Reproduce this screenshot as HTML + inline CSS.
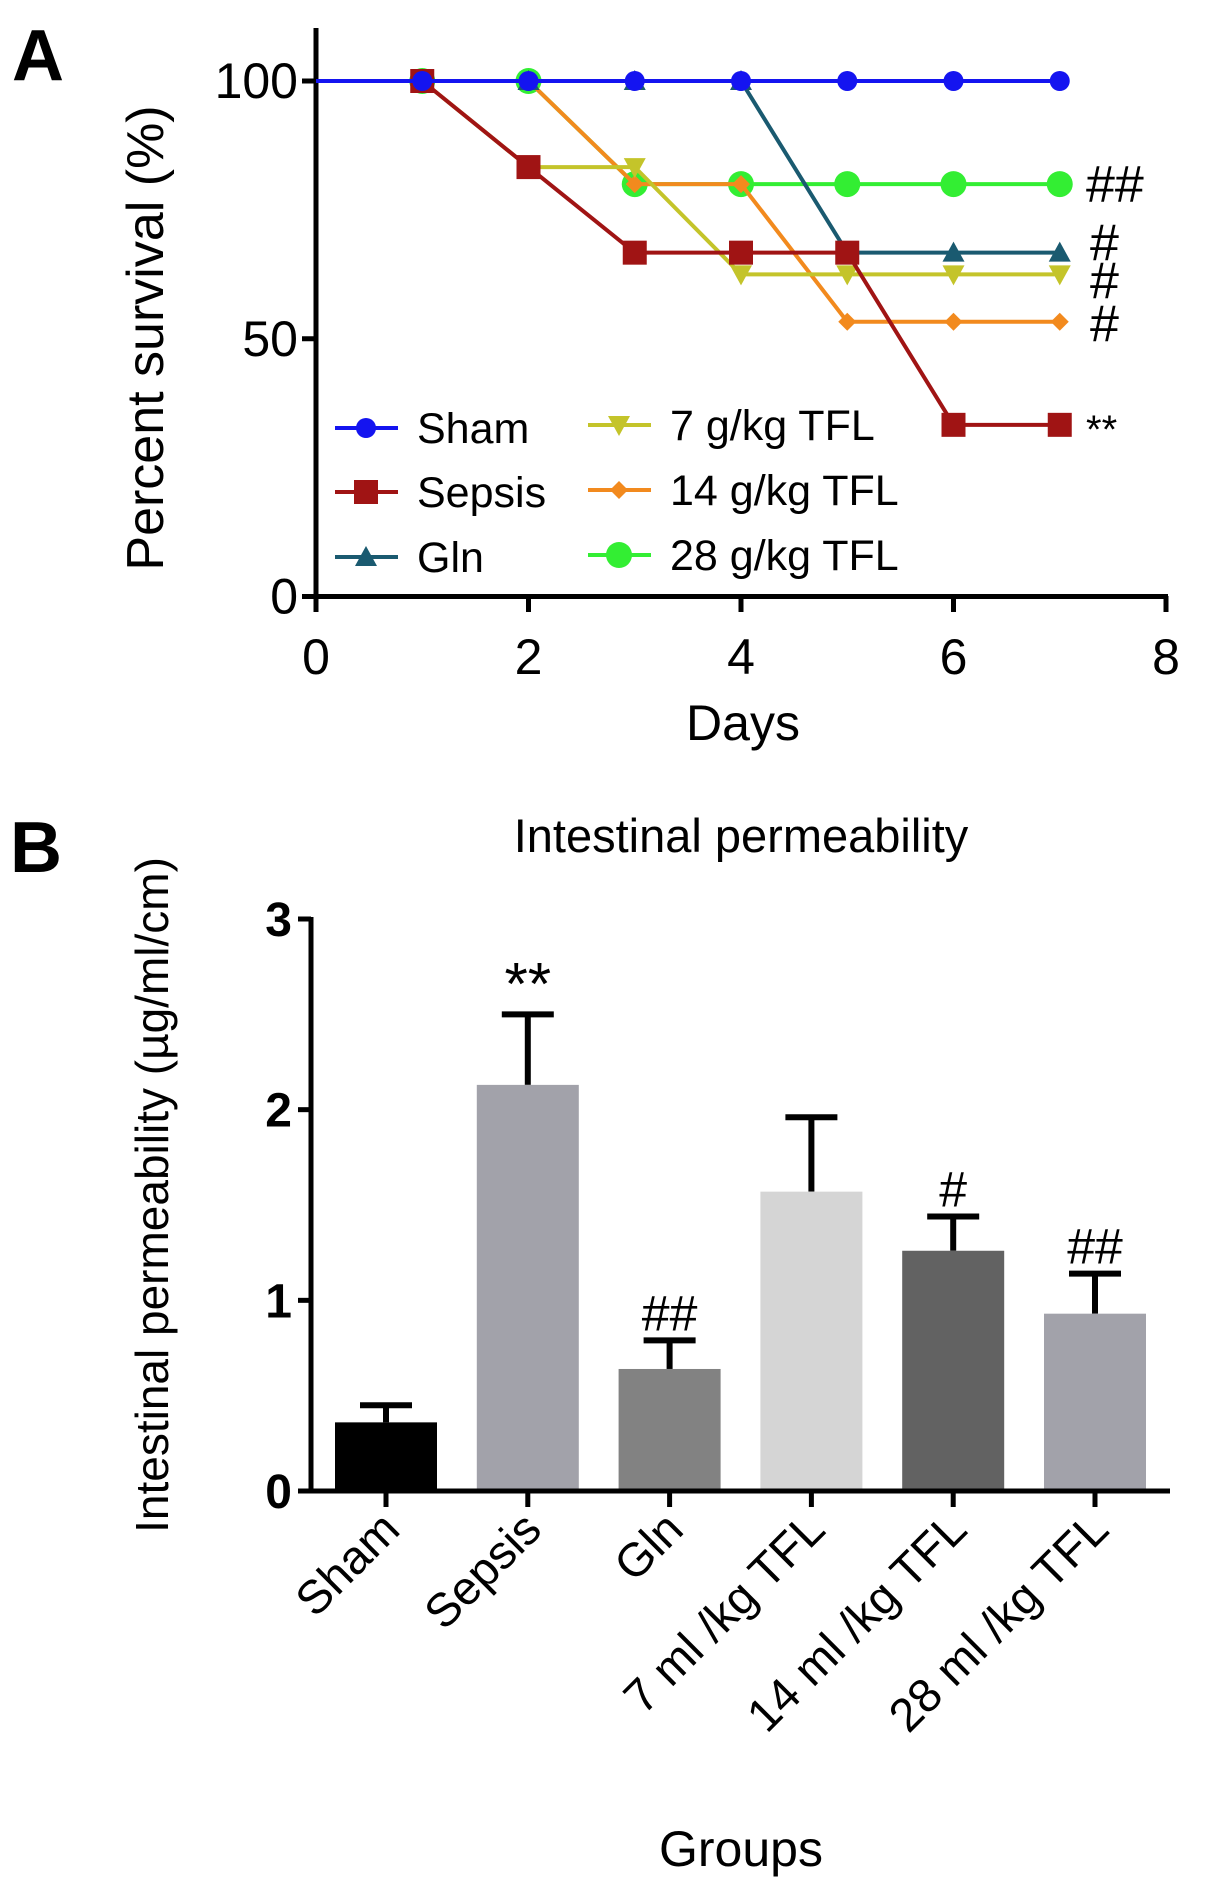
<!DOCTYPE html>
<html><head><meta charset="utf-8"><style>
body{margin:0;background:#fff}
svg{display:block;font-family:"Liberation Sans",sans-serif}
</style></head><body>
<svg width="1205" height="1900" viewBox="0 0 1205 1900">
<g id="panelA"></g>
<g id="panelB"></g>
</svg>
<script>
// Panel A data
const days=[1,2,3,4,5,6,7];
const seriesNames=["Sham","Sepsis","Gln","7 g/kg TFL","14 g/kg TFL","28 g/kg TFL"];
const sham=[100,100,100,100,100,100,100];
const sepsis=[100,83.3,66.7,66.7,66.7,33.3,33.3];
const gln=[100,100,100,100,66.7,66.7,66.7];
const tfl7=[100,83.3,83.3,62.5,62.5,62.5,62.5];
const tfl14=[100,100,80,80,53.3,53.3,53.3];
const tfl28=[100,100,80,80,80,80,80];
const xTicksA=[0,2,4,6,8];
const yTicksA=[0,50,100];
// Panel B data
const groups=["Sham","Sepsis","Gln","7 ml /kg TFL","14 ml /kg TFL","28 ml /kg TFL"];
const means=[0.36,2.13,0.64,1.57,1.26,0.93];
const errs=[0.09,0.37,0.15,0.39,0.18,0.21];
const marks=["","**","##","","#","##"];
const yTicksB=[0,1,2,3];

const NS="http://www.w3.org/2000/svg";
function mk(p,t,a,txt){const e=document.createElementNS(NS,t);for(const k in a)e.setAttribute(k,a[k]);if(txt!=null)e.textContent=txt;p.appendChild(e);return e;}

// ---- Panel A
const A=document.getElementById('panelA');
const ax=d=>316+d*(1166-316)/8;
const ay=v=>596.5-v*(596.5-81)/100;
let e;
e=mk(A,'text',{x:12,y:80,'font-size':72,'font-weight':'bold'},'A');

e=mk(A,'line',{x1:316,y1:28,x2:316,y2:598,stroke:'#000','stroke-width':5});

e=mk(A,'line',{x1:314,y1:596.5,x2:1168,y2:596.5,stroke:'#000','stroke-width':5});

yTicksA.forEach(v=>{
 mk(A,'line',{x1:302,y1:ay(v),x2:316,y2:ay(v),stroke:'#000','stroke-width':5});
 e=mk(A,'text',{x:298,y:ay(v)+17,'font-size':50,'text-anchor':'end'},v);
 
});
xTicksA.forEach(v=>{
 mk(A,'line',{x1:ax(v),y1:596,x2:ax(v),y2:612,stroke:'#000','stroke-width':5});
 e=mk(A,'text',{x:ax(v),y:674,'font-size':50,'text-anchor':'middle'},v);
 
});
e=mk(A,'text',{x:743,y:740,'font-size':50,'text-anchor':'middle'},'Days');

e=mk(A,'text',{x:0,y:0,'font-size':52,'text-anchor':'middle',transform:'translate(163,338) rotate(-90)'},'Percent survival (%)');


const colors=['#1414f0','#a01414','#1a5a70','#c4c42a','#f28a1e','#33ee33'];
const shapes=['circle','square','tri','tridown','diamond','bigcircle'];
const allS=[sham,sepsis,gln,tfl7,tfl14,tfl28];
function marker(g,shape,x,y,c){
 if(shape==='circle')return mk(g,'circle',{cx:x,cy:y,r:10,fill:c});
 if(shape==='bigcircle')return mk(g,'circle',{cx:x,cy:y,r:13,fill:c});
 if(shape==='square')return mk(g,'rect',{x:x-12,y:y-12,width:24,height:24,fill:c});
 if(shape==='tri')return mk(g,'polygon',{points:`${x},${y-11} ${x-11},${y+9} ${x+11},${y+9}`,fill:c});
 if(shape==='tridown')return mk(g,'polygon',{points:`${x},${y+11} ${x-11},${y-9} ${x+11},${y-9}`,fill:c});
 return mk(g,'polygon',{points:`${x},${y-9} ${x+9},${y} ${x},${y+9} ${x-9},${y}`,fill:c});
}
const order=[5,4,3,2,1,0];
order.forEach(i=>{
 const g=mk(A,'g',{});
 
 
 const s=allS[i];
 const pts=(i===0?[[0,100]]:[]).concat(days.map((d,k)=>[d,s[k]]));
 mk(g,'polyline',{points:pts.map(p=>ax(p[0])+','+ay(p[1])).join(' '),fill:'none',stroke:colors[i],'stroke-width':4});
 days.forEach((d,k)=>{const m=marker(g,shapes[i],ax(d),ay(s[k]),colors[i]);
  });
});
[["##",1086,ay(80)+18,52],["#",1090,ay(66.7)+8,52],["#",1090,ay(62.5)+24,52],["#",1090,ay(53.3)+20,52],["**",1086,ay(33.3)+18,40]].forEach(a=>{
 e=mk(A,'text',{x:a[1],y:a[2],'font-size':a[3]},a[0]);
 
});
const legPos=[[335,428],[335,492],[335,557],[588,425],[588,490],[588,555]];
seriesNames.forEach((n,i)=>{
 const g=mk(A,'g',{});
 
 const [lx,ly]=legPos[i];
 mk(g,'line',{x1:lx,y1:ly,x2:lx+63,y2:ly,stroke:colors[i],'stroke-width':4});
 marker(g,shapes[i],lx+31,ly,colors[i]);
 mk(g,'text',{x:lx+82,y:ly+15,'font-size':43},n);
});

// ---- Panel B
const B=document.getElementById('panelB');
const bx=i=>386+i*141.8;
const by=v=>1491-v*(1491-919)/3;
e=mk(B,'text',{x:10,y:872,'font-size':72,'font-weight':'bold'},'B');

e=mk(B,'text',{x:741,y:852,'font-size':47,'text-anchor':'middle'},'Intestinal permeability');

const barCols=['#000','#a2a2aa','#828282','#d5d5d5','#626262','#a2a2aa'];
means.forEach((m,i)=>{
 const g=mk(B,'g',{});
 
 
 const x=bx(i);
 const top=by(m+errs[i]);
 mk(g,'line',{x1:x,y1:by(m),x2:x,y2:top,stroke:'#000','stroke-width':6});
 mk(g,'line',{x1:x-26,y1:top,x2:x+26,y2:top,stroke:'#000','stroke-width':6});
 mk(g,'rect',{x:x-51,y:by(m),width:102,height:by(0)-by(m),fill:barCols[i]});
 if(marks[i]){mk(g,'text',{x:x,y:top-10,'font-size':marks[i]==='**'?60:50,'text-anchor':'middle'},marks[i]);}
});
e=mk(B,'line',{x1:311,y1:917,x2:311,y2:1493,stroke:'#000','stroke-width':5});

e=mk(B,'line',{x1:309,y1:1491,x2:1170,y2:1491,stroke:'#000','stroke-width':5});

yTicksB.forEach(v=>{
 mk(B,'line',{x1:298,y1:by(v),x2:311,y2:by(v),stroke:'#000','stroke-width':5});
 e=mk(B,'text',{x:292,y:by(v)+17,'font-size':48,'font-weight':'bold','text-anchor':'end'},v);
 
});
groups.forEach((n,i)=>{
 const x=bx(i);
 mk(B,'line',{x1:x,y1:1491,x2:x,y2:1507,stroke:'#000','stroke-width':5});
 e=mk(B,'text',{x:0,y:0,'font-size':47,'text-anchor':'end',transform:`translate(${x+16},${1532}) rotate(-45)`},n);
 
});
e=mk(B,'text',{x:741,y:1866,'font-size':50,'text-anchor':'middle'},'Groups');

e=mk(B,'text',{x:0,y:0,'font-size':46,'text-anchor':'middle',transform:'translate(168,1195) rotate(-90)'},'Intestinal permeability (µg/ml/cm)');

</script>
</body></html>
